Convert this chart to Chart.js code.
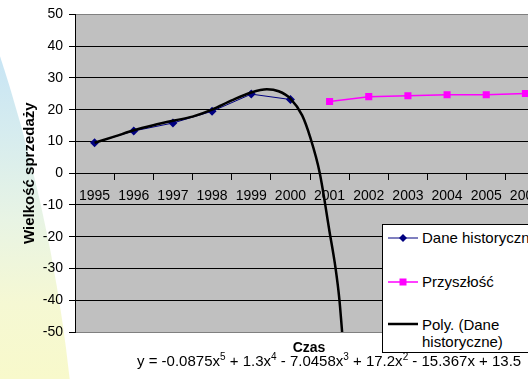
<!DOCTYPE html>
<html>
<head>
<meta charset="utf-8">
<script src="https://cdn.jsdelivr.net/npm/chart.js@4.4.1/dist/chart.umd.min.js"></script>
<style>
  body {
    margin: 0;
    width: 528px;
    height: 379px;
    overflow: hidden;
    position: relative;
    background: #fff;
    font-family: "Liberation Sans", Arial, sans-serif;
  }
  .swoosh {
    position: absolute;
    left: 0;
    top: 0;
    width: 528px;
    height: 379px;
    background: linear-gradient(to bottom, #c4e3f6 10%, #d6ecef 35%, #e8f4e4 58%, #f5f8d3 80%, #f8f9cb 100%);
    clip-path: circle(1589px at -1510px 551px);
  }
  #wrap {
    position: absolute;
    left: 0;
    top: 0;
    width: 570px;
    height: 379px;
  }
  .legend {
    position: absolute;
    left: 382px;
    top: 224px;
    width: 170px;
    height: 127px;
    border: 1px solid #000;
    background: #fff;
    font-size: 15px;
    color: #000;
  }
  .legend .row {
    position: absolute;
    left: 5px;
    display: flex;
    align-items: center;
  }
  .legend svg { margin-right: 4px; }
  .czas {
    position: absolute;
    left: 0;
    width: 618px;
    top: 339px;
    text-align: center;
    font-weight: bold;
    font-size: 14px;
  }
  .eq {
    position: absolute;
    left: 137px;
    top: 352px;
    font-size: 15px;
    white-space: nowrap;
  }
  .eq sup { font-size: 10px; vertical-align: 6px; line-height: 0; }
</style>
</head>
<body>
<div class="swoosh"></div>
<div id="wrap"><canvas id="chart" width="570" height="379"></canvas></div>

<div class="legend">
  <div class="row" style="top:4px">
    <svg width="30" height="16"><line x1="0" y1="8" x2="30" y2="8" stroke="#000080" stroke-width="1"/><polygon points="15,4 19,8 15,12 11,8" fill="#000080"/></svg>
    <span>Dane historyczne</span>
  </div>
  <div class="row" style="top:48px">
    <svg width="30" height="16"><line x1="0" y1="8" x2="30" y2="8" stroke="#ff00ff" stroke-width="1.5"/><rect x="11.5" y="4.5" width="7" height="7" fill="#ff00ff"/></svg>
    <span>Przyszłość</span>
  </div>
  <div class="row" style="top:91px; align-items:flex-start">
    <svg width="30" height="16"><line x1="0" y1="8" x2="30" y2="8" stroke="#000" stroke-width="2.5"/></svg>
    <span style="line-height:17px">Poly. (Dane<br>historyczne)</span>
  </div>
</div>

<div class="czas">Czas</div>
<div class="eq">y = -0.0875x<sup>5</sup> + 1.3x<sup>4</sup> - 7.0458x<sup>3</sup> + 17.2x<sup>2</sup> - 15.367x + 13.5</div>

<script>
const lata = ["1995", "1996", "1997", "1998", "1999", "2000", "2001", "2002", "2003", "2004", "2005", "2006"];
const daneHistoryczne = [9.6, 13.3, 15.8, 19.5, 24.9, 23.2, null, null, null, null, null, null];
const przyszlosc = [null, null, null, null, null, null, 22.6, 24.1, 24.4, 24.7, 24.7, 25.1];

// trendline (x = 1 for 1995)
const polyX = [1, 1.5, 2, 2.5, 3, 3.5, 4, 4.5, 5, 5.4, 5.7, 6, 6.3, 6.5, 6.75, 7, 7.15, 7.25, 7.32];
const polyY = [9.6, 11.5, 13.5, 15.1, 16.5, 17.8, 20.0, 22.9, 25.4, 26.4, 25.8, 23.5, 18.2, 11.5, 0, -18.5, -29.7, -39.7, -50];

const yTicks = [-50, -40, -30, -20, -10, 0, 10, 20, 30, 40, 50];

const FONT = "'Liberation Sans', Arial, sans-serif";

const plotBg = {
  id: "plotBg",
  beforeDraw(chart) {
    const { ctx, chartArea } = chart;
    ctx.save();
    ctx.fillStyle = "#c0c0c0";
    ctx.fillRect(chartArea.left, chartArea.top, chartArea.right - chartArea.left, chartArea.bottom - chartArea.top);
    ctx.restore();
  },
};

new Chart(document.getElementById("chart").getContext("2d"), {
  type: "line",
  data: {
    labels: lata,
    datasets: [
      {
        label: "Poly. (Dane historyczne)",
        data: polyX.map((x, i) => ({ x: x, y: polyY[i] })),
        xAxisID: "xp",
        borderColor: "#000",
        borderWidth: 2.5,
        pointRadius: 0,
        cubicInterpolationMode: "monotone",
        order: 0,
      },
      {
        label: "Dane historyczne",
        data: daneHistoryczne,
        xAxisID: "x",
        borderColor: "#000080",
        backgroundColor: "#000080",
        borderWidth: 1,
        pointStyle: "rectRot",
        pointRadius: 4.5,
        pointBorderWidth: 0,
        order: 1,
      },
      {
        label: "Przyszłość",
        data: przyszlosc,
        xAxisID: "x",
        borderColor: "#ff00ff",
        backgroundColor: "#ff00ff",
        borderWidth: 1.5,
        pointStyle: "rect",
        pointRadius: 5,
        pointBorderWidth: 0,
        order: 2,
      },
    ],
  },
  options: {
    responsive: false,
    animation: false,
    devicePixelRatio: 1,
    layout: { padding: { left: 0, top: 14, right: 25, bottom: 47 } },
    plugins: { legend: { display: false }, tooltip: { enabled: false } },
    scales: {
      x: {
        type: "category",
        position: { y: 0 },
        offset: true,
        grid: { display: true, drawOnChartArea: false, offset: true, tickLength: 6, tickColor: "#000", color: "#000" },
        border: { color: "#000", width: 1 },
        ticks: { color: "#000", font: { family: FONT, size: 14 }, padding: 9, maxRotation: 0, autoSkip: false },
      },
      xp: {
        type: "linear",
        display: false,
        min: 0.5,
        max: 12.5,
      },
      y: {
        min: -50,
        max: 50,
        afterBuildTicks(scale) {
          scale.ticks = yTicks.map((v) => ({ value: v }));
        },
        afterFit(scale) {
          scale.width = 75;
        },
        grid: {
          color: (c) => (c.tick && Math.abs(c.tick.value) === 50 ? "#808080" : "#000"),
          tickColor: "#000",
          tickLength: 6,
        },
        border: { color: "#000", width: 1 },
        ticks: { color: "#000", font: { family: FONT, size: 14 }, padding: 6 },
        title: {
          display: true,
          text: "Wielkość sprzedaży",
          color: "#000",
          font: { family: FONT, size: 15, weight: "bold" },
          padding: { top: 21, bottom: 0 },
        },
      },
    },
  },
  plugins: [plotBg],
});
</script>
</body>
</html>
